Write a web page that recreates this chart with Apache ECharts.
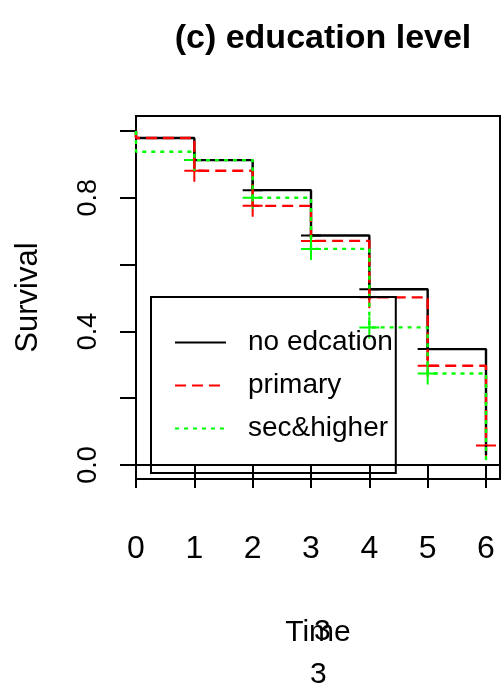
<!DOCTYPE html>
<html>
<head>
<meta charset="utf-8">
<script src="https://cdn.jsdelivr.net/npm/echarts@6/dist/echarts.min.js"></script>
<style>
  html, body { margin: 0; padding: 0; background: #fff; }
  #main { width: 501px; height: 690px; }
</style>
</head>
<body>
<div id="main"></div>
<script>
// time points (years) and survival estimates
var times = [0, 1, 2, 3, 4, 5, 6];
var noEdu = [0.979, 0.913, 0.823, 0.687, 0.526, 0.347, 0.03];
var primary = [0.979, 0.881, 0.776, 0.671, 0.502, 0.297, 0.058];
var secHigher = [0.938, 0.913, 0.800, 0.647, 0.412, 0.274, 0.01];
// times where a censoring "+" is drawn
var noEduCens = [1, 2, 3, 4, 5];
var primaryCens = [1, 2, 3, 4, 5, 6];
var secHigherCens = [1, 2, 3, 4, 5];
var xTicks = [0, 1, 2, 3, 4, 5, 6];
var yTicks = [0, 0.2, 0.4, 0.6, 0.8, 1.0];
var yLabels = [0, 0.4, 0.8];

var font = "'Liberation Sans', Arial, sans-serif";
var plus = 'path://M0,10L20,10L20,12L0,12Z M9,0L11,0L11,22L9,22Z';

function stepData(vals) {
    var d = [[0, 1.0]];
    for (var i = 0; i < times.length; i++) d.push([times[i], vals[i]]);
    return d;
}
function censData(vals, cens) {
    return cens.map(function (t) { return [t, vals[times.indexOf(t)]]; });
}

function curve(name, vals, color, type) {
    return {
        name: name, type: 'line', step: 'end', data: stepData(vals),
        symbol: 'none', silent: true,
        lineStyle: { color: color, width: 2.4, type: type, cap: 'butt' },
        itemStyle: { color: color }
    };
}
function marks(name, vals, cens, color) {
    return {
        name: name + '+', type: 'scatter', data: censData(vals, cens),
        symbol: plus, symbolSize: [20, 22], silent: true,
        itemStyle: { color: color, opacity: 1 }
    };
}

var chart = echarts.init(document.getElementById('main'));
var option = {
    backgroundColor: '#fff',
    animation: false,
    title: {
        text: '(c) education level', left: 318, top: 17, textAlign: 'center',
        textStyle: { fontFamily: font, fontSize: 34, fontWeight: 'bold', color: '#000' }
    },
    grid: {
        left: 136, top: 116, width: 364, height: 363,
        show: true, borderColor: '#000', borderWidth: 2, backgroundColor: 'transparent'
    },
    xAxis: {
        type: 'value', min: 0, max: 6.24,
        name: 'Time', nameLocation: 'middle', nameGap: 139,
        nameTextStyle: { fontFamily: font, fontSize: 30, color: '#000' },
        axisLine: { show: true, lineStyle: { color: '#000', width: 2 } },
        axisTick: { show: true, length: 23, customValues: xTicks, lineStyle: { color: '#000', width: 2 } },
        axisLabel: { customValues: xTicks, margin: 54, fontFamily: font, fontSize: 32, color: '#000' },
        splitLine: { show: false }
    },
    yAxis: {
        type: 'value', min: -0.042, max: 1.045,
        name: 'Survival', nameLocation: 'middle', nameGap: 92, nameRotate: 90,
        nameTextStyle: { fontFamily: font, fontSize: 31, color: '#000' },
        axisLine: { show: true, lineStyle: { color: '#000', width: 2 } },
        axisTick: { show: true, length: 16, customValues: yTicks, lineStyle: { color: '#000', width: 2 } },
        axisLabel: {
            customValues: yLabels, rotate: 90, margin: 34,
            fontFamily: font, fontSize: 27, color: '#000',
            formatter: function (v) { return v.toFixed(1); }
        },
        splitLine: { show: false }
    },
    legend: {
        data: ['no edcation', 'primary', 'sec&higher'],
        orient: 'vertical', left: 151, top: 297, padding: [30, 3, 29, 23],
        itemWidth: 51, itemHeight: 20, itemGap: 12,
        borderColor: '#000', borderWidth: 2, backgroundColor: 'transparent',
        selectedMode: false,
        itemStyle: { opacity: 0 },
        textStyle: { fontFamily: font, fontSize: 28, color: '#000', padding: [0, 0, 0, 17], lineHeight: 31 }
    },
    graphic: [
        { type: 'text', left: 314, top: 617, style: { text: '3', font: '30px ' + font, fill: '#000' } },
        { type: 'text', left: 310, top: 660, style: { text: '3', font: '30px ' + font, fill: '#000' } }
    ],
    series: [
        curve('no edcation', noEdu, '#000', 'solid'),
        curve('primary', primary, '#ff0000', [11, 6]),
        curve('sec&higher', secHigher, '#00ff00', [4, 5]),
        marks('no edcation', noEdu, noEduCens, '#000'),
        marks('primary', primary, primaryCens, '#ff0000'),
        marks('sec&higher', secHigher, secHigherCens, '#00ff00')
    ]
};
chart.setOption(option);
</script>
</body>
</html>
